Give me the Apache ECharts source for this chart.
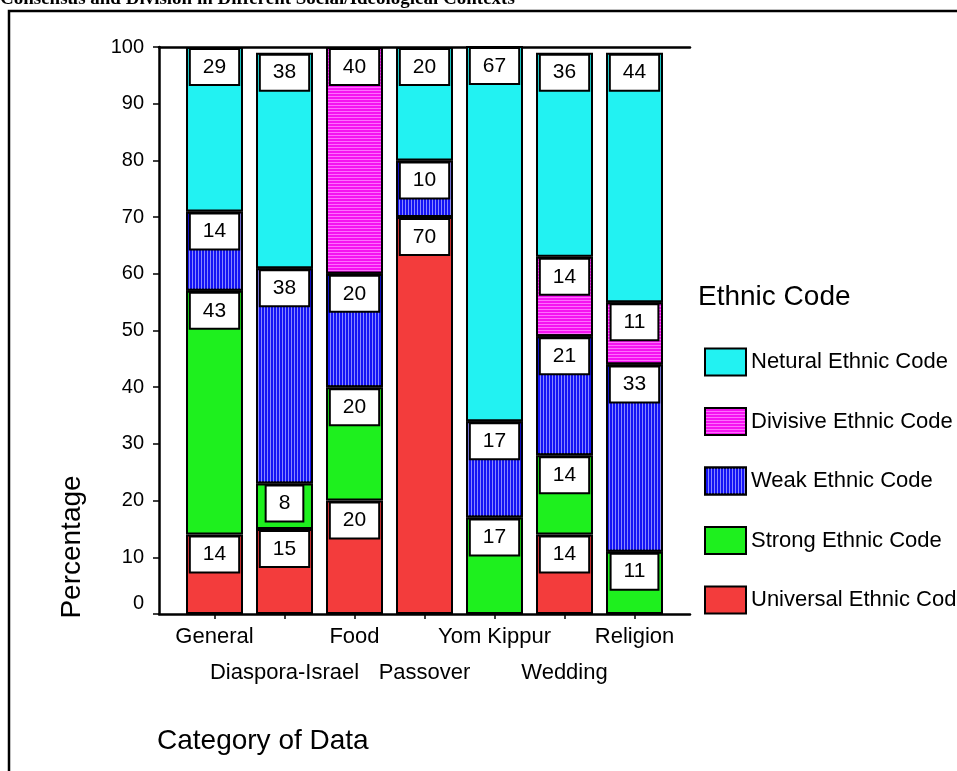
<!DOCTYPE html>
<html>
<head>
<meta charset="utf-8">
<script src="https://cdn.jsdelivr.net/npm/echarts@6/dist/echarts.min.js"></script>
<style>
  html, body { margin: 0; padding: 0; background: #ffffff; }
  #chart { width: 957px; height: 771px; }
</style>
</head>
<body>
<div id="chart"></div>
<script>
// Categories along the x axis
const categories = ['General', 'Diaspora-Israel', 'Food', 'Passover', 'Yom Kippur', 'Wedding', 'Religion'];

// Percentages per ethnic code (null = no segment)
const universal = [14, 15, 20, 70, null, 14, null];
const strong    = [43, 8, 20, null, 17, 14, 11];
const weak      = [14, 38, 20, 10, 17, 21, 33];
const divisive  = [null, null, 40, null, null, 14, 11];
const neutral   = [29, 38, null, 20, 67, 36, 44];

// Series names (legend order is top to bottom)
const seriesNames = {
  neutral: 'Netural Ethnic Code',
  divisive: 'Divisive Ethnic Code',
  weak: 'Weak Ethnic Code',
  strong: 'Strong Ethnic Code',
  universal: 'Universal Ethnic Cod'
};

// Y axis tick values
const yMin = 0, yMax = 100, yStep = 10;

const SANS = '"Liberation Sans", Arial, sans-serif';
const SERIF = '"Liberation Serif", "Times New Roman", serif';

const chart = echarts.init(document.getElementById('chart'), null, { renderer: 'canvas' });

function barSeries(name, values, color, decal) {
  const itemStyle = { color: color, borderColor: '#000', borderWidth: 2 };
  if (decal) itemStyle.decal = decal;
  return {
    name: name,
    type: 'bar',
    stack: 'total',
    xAxisIndex: 0,
    yAxisIndex: 0,
    barWidth: 57,
    data: values,
    itemStyle: itemStyle,
    emphasis: { disabled: true },
    label: {
      show: true,
      position: 'insideTop',
      distance: 3,
      formatter: '{c}',
      fontFamily: SANS,
      fontSize: 21,
      lineHeight: 22,
      color: '#000',
      backgroundColor: '#fff',
      borderColor: '#000',
      borderWidth: 2,
      padding: [6, 12, 6, 12]
    }
  };
}

const frameLine = { show: true, lineStyle: { color: '#000', width: 2.5 } };

const option = {
  animation: false,
  backgroundColor: '#fff',
  grid: [
    { left: 179.5, width: 490, top: 47, bottom: 157 },
    { left: 159, width: 531, top: 47, bottom: 157 }
  ],
  xAxis: [
    {
      type: 'category',
      gridIndex: 0,
      data: categories,
      axisLine: { show: false },
      axisTick: { show: true, alignWithLabel: true, length: 5, lineStyle: { color: '#000', width: 1.5 } },
      axisLabel: {
        interval: 0,
        hideOverlap: false,
        margin: 5,
        color: '#000',
        fontFamily: SANS,
        fontSize: 22,
        lineHeight: 36,
        verticalAlign: 'top',
        formatter: function (name, idx) { return idx % 2 === 1 ? '\n' + name : name; }
      },
      splitLine: { show: false }
    },
    {
      type: 'value', gridIndex: 1, position: 'bottom', min: 0, max: 1,
      axisLine: frameLine, axisTick: { show: false }, axisLabel: { show: false }, splitLine: { show: false }
    },
    {
      type: 'value', gridIndex: 1, position: 'top', min: 0, max: 1,
      axisLine: frameLine, axisTick: { show: false }, axisLabel: { show: false }, splitLine: { show: false }
    }
  ],
  yAxis: [
    { type: 'value', gridIndex: 0, min: yMin, max: yMax, show: false },
    {
      type: 'value', gridIndex: 1, min: yMin, max: yMax, interval: yStep,
      axisLine: frameLine,
      axisTick: { show: true, length: 6, lineStyle: { color: '#000', width: 1.5 } },
      splitLine: { show: false },
      axisLabel: {
        margin: 15,
        color: '#000',
        fontFamily: SANS,
        fontSize: 20,
        formatter: function (v) { return v === 0 ? '{z|0}' : String(v); },
        rich: { z: { fontFamily: SANS, fontSize: 20, color: '#000', padding: [0, 0, 21, 0] } }
      }
    }
  ],
  legend: {
    orient: 'vertical',
    left: 704,
    top: 347.5,
    padding: 0,
    itemWidth: 41,
    itemHeight: 27,
    itemGap: 30.5,
    icon: 'rect',
    selectedMode: false,
    data: [seriesNames.neutral, seriesNames.divisive, seriesNames.weak, seriesNames.strong, seriesNames.universal],
    textStyle: { fontFamily: SANS, fontSize: 22, color: '#000' }
  },
  graphic: [
    {
      type: 'rect', silent: true, z: -10,
      shape: { x: 9, y: 11, width: 1200, height: 1200 },
      style: { fill: 'none', stroke: '#000', lineWidth: 2.5 }
    },
    {
      type: 'text', silent: true, x: 0, y: 8.5,
      style: { text: 'Consensus and Division in Different Social/Ideological Contexts', font: 'bold 19px ' + SERIF, fill: '#000', textAlign: 'left', textVerticalAlign: 'bottom' }
    },
    {
      type: 'text', silent: true, x: 698, y: 297,
      style: { text: 'Ethnic Code', font: '28px ' + SANS, fill: '#000', textAlign: 'left', textVerticalAlign: 'middle' }
    },
    {
      type: 'text', silent: true, x: 157, y: 741,
      style: { text: 'Category of Data', font: '28px ' + SANS, fill: '#000', textAlign: 'left', textVerticalAlign: 'middle' }
    },
    {
      type: 'text', silent: true, x: 72, y: 547, rotation: Math.PI / 2,
      style: { text: 'Percentage', font: '28px ' + SANS, fill: '#000', textAlign: 'center', textVerticalAlign: 'middle' }
    }
  ],
  series: [
    barSeries(seriesNames.universal, universal, '#F33C3C'),
    barSeries(seriesNames.strong, strong, '#1EF01E'),
    barSeries(seriesNames.weak, weak, '#1414F5', {
      symbol: 'rect', symbolSize: 1, symbolKeepAspect: false,
      dashArrayX: [1, 2], dashArrayY: [2, 0], color: 'rgba(150,150,255,0.9)'
    }),
    barSeries(seriesNames.divisive, divisive, '#F514F0', {
      symbol: 'rect', symbolSize: 1, symbolKeepAspect: false,
      dashArrayX: [2, 0], dashArrayY: [1, 2], color: 'rgba(255,120,255,0.9)'
    }),
    barSeries(seriesNames.neutral, neutral, '#22F2F2')
  ]
};

chart.setOption(option);
</script>
</body>
</html>
